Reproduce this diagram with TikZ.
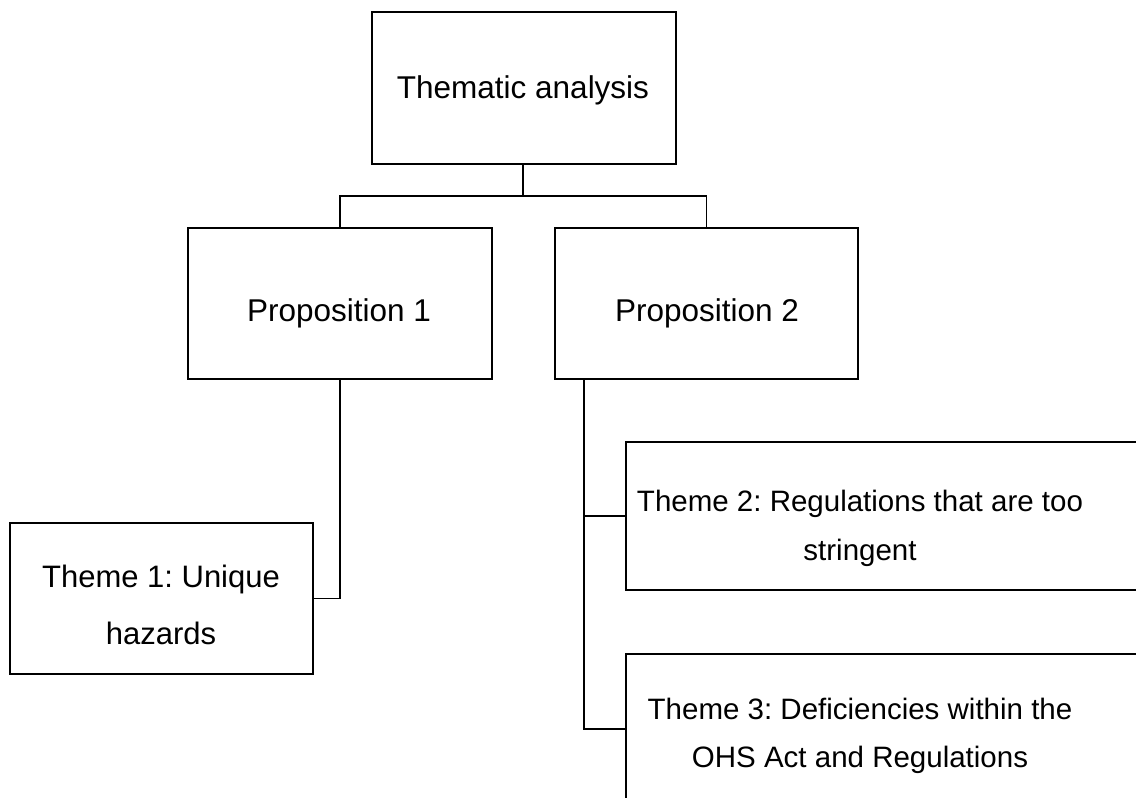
\documentclass[tikz,border=0pt]{standalone}
\usepackage{fontspec}
\setmainfont{Liberation Sans}
\frenchspacing
\begin{document}
\begin{tikzpicture}[x=1pt,y=-1pt,
  box/.style={draw=black, line width=1.9pt, rectangle, inner sep=0pt},
  lbl/.style={font=\fontsize{31.5}{38}\selectfont, inner sep=0pt, anchor=base},
  sublbl/.style={lbl, font=\fontsize{31}{37}\selectfont},
  small/.style={lbl, font=\fontsize{29.5}{35}\selectfont},
  link/.style={draw=black, line width=1.9pt}]
  \useasboundingbox (0,0) rectangle (1136,798);
  \clip (0,0) rectangle (1136,798);

  % boxes
  \node[box, minimum width=304pt, minimum height=152pt] (ta) at (524,88) {};
  \node[box, minimum width=304pt, minimum height=151pt] (p1) at (340,303.5) {};
  \node[box, minimum width=303pt, minimum height=151pt] (p2) at (706.5,303.5) {};
  \node[box, minimum width=303pt, minimum height=151pt] (t1) at (161.5,598.5) {};
  \node[box, minimum width=560pt, minimum height=148pt] (t2) at (906,516) {};
  \node[box, minimum width=560pt, minimum height=150pt] (t3) at (906,729) {};

  % texts
  \node[lbl] at (523,98) {Thematic analysis};
  \node[lbl] at (339,321) {Proposition 1};
  \node[lbl] at (707,321) {Proposition 2};
  \node[sublbl] at (161,587) {Theme 1: Unique};
  \node[sublbl] at (161,644) {hazards};
  \node[small] at (860,511) {Theme 2: Regulations that are too};
  \node[small] at (860,560) {stringent};
  \node[small] at (860,719) {Theme 3: Deficiencies within the};
  \node[small] at (860,767) {OHS Act and Regulations};

  % connectors
  \coordinate (j) at (523,196);
  \draw[link] (ta.south -| j) -- (j);
  \draw[link] (p1.north) |- (j) -| (p2.north);
  \draw[link] (p1.south) |- (t1.east);
  \coordinate (k) at ([xshift=30pt]p2.south west);
  \draw[link] (k) |- (t2.west);
  \draw[link] (k) |- (t3.west);
\end{tikzpicture}
\end{document}
